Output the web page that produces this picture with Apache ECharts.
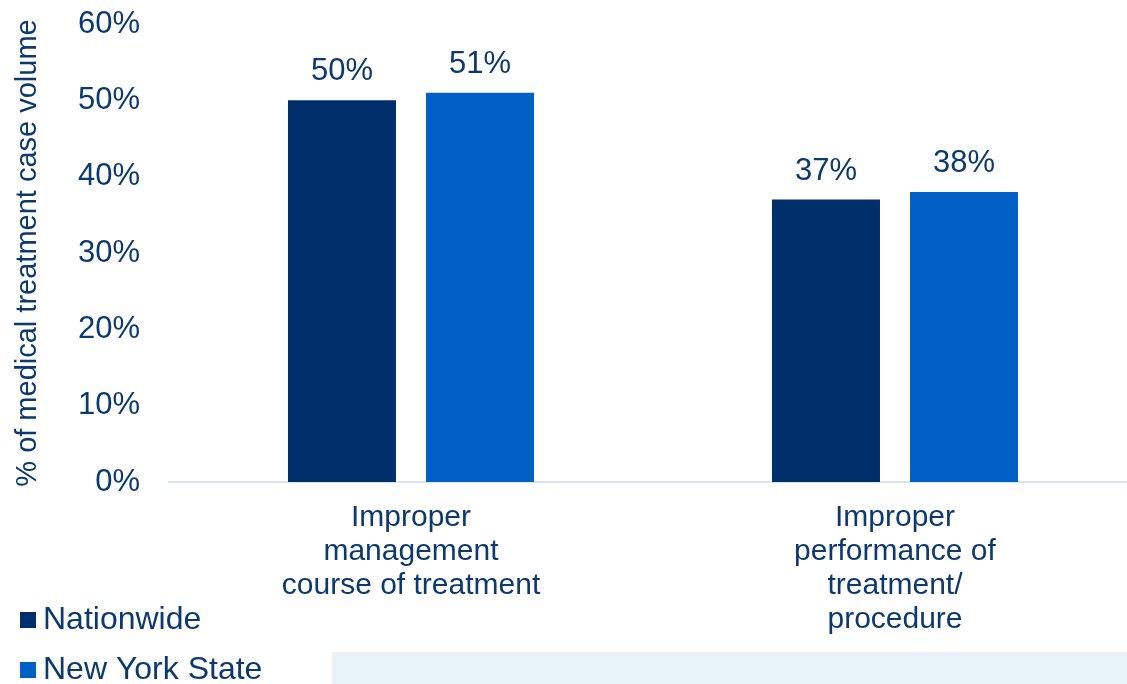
<!DOCTYPE html>
<html lang="en">
<head>
    <meta charset="UTF-8">
    <title>Medical treatment case volume</title>
    <script type="text/javascript" src="https://fastly.jsdelivr.net/npm/echarts@6.0.0/dist/echarts.min.js"></script>
    <style>
        html, body { margin: 0; padding: 0; background: #fff; }
        #main { width: 1127px; height: 684px; }
    </style>
</head>
<body>
<div id="main"></div>
<script type="text/javascript">
    var categories = ['Improper\nmanagement\ncourse of treatment', 'Improper\nperformance of\ntreatment/\nprocedure'];
    var seriesNames = ['Nationwide', 'New York State'];
    var nationwide = [50, 37];
    var newYorkState = [51, 38];
    var yTicks = [0, 10, 20, 30, 40, 50, 60];

    var textColor = '#0c3970';
    var font = 'Liberation Sans, Arial, sans-serif';

    var myChart = echarts.init(document.getElementById('main'));

    // one legend per row, the two of them stacked at the bottom left
    function makeLegend(name, top) {
        return {
            data: [name],
            left: 20,
            top: top,
            padding: 0,
            icon: 'rect',
            itemWidth: 16,
            itemHeight: 16,
            textStyle: { fontSize: 32, color: textColor, fontFamily: font, padding: [0, 0, 0, 2] }
        };
    }

    function barLabel() {
        return {
            show: true,
            position: 'top',
            distance: 13,
            fontSize: 31,
            color: textColor,
            fontFamily: font,
            formatter: '{c}%'
        };
    }

    var option = {
        animation: false,
        color: ['#002f6c', '#0060c6'],
        textStyle: { fontFamily: font, color: textColor },
        grid: {
            left: 169,
            top: 24,
            width: 968,
            height: 458,
            outerBoundsMode: 'none'
        },
        legend: [
            makeLegend(seriesNames[0], 604),
            makeLegend(seriesNames[1], 654)
        ],
        xAxis: {
            type: 'category',
            data: categories,
            axisTick: { show: false },
            axisLine: { lineStyle: { color: '#dae4ee', width: 2 } },
            axisLabel: {
                interval: 0,
                margin: 19,
                fontSize: 30,
                lineHeight: 34,
                color: textColor,
                fontFamily: font,
                verticalAlign: 'top'
            }
        },
        yAxis: {
            type: 'value',
            min: yTicks[0],
            max: yTicks[yTicks.length - 1],
            interval: 10,
            name: '% of medical treatment case volume',
            nameLocation: 'middle',
            nameGap: 127,
            nameTextStyle: { fontSize: 29, color: textColor, fontFamily: font },
            splitLine: { show: false },
            axisLine: { show: false },
            axisTick: { show: false },
            axisLabel: {
                margin: 29,
                fontSize: 31,
                color: textColor,
                fontFamily: font,
                formatter: '{value}%'
            }
        },
        series: [
            {
                name: seriesNames[0],
                type: 'bar',
                data: nationwide,
                barWidth: 108,
                barGap: '27.8%',
                label: barLabel()
            },
            {
                name: seriesNames[1],
                type: 'bar',
                data: newYorkState,
                barWidth: 108,
                barGap: '27.8%',
                label: barLabel()
            }
        ],
        graphic: [
            {
                type: 'rect',
                left: 332,
                top: 652,
                shape: { width: 795, height: 32 },
                style: { fill: '#e8f2f9' },
                silent: true
            }
        ]
    };

    myChart.setOption(option);
</script>
</body>
</html>
